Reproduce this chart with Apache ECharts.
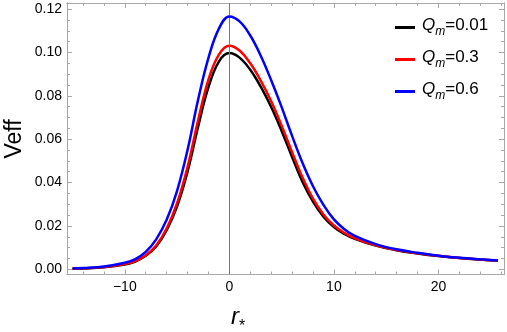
<!DOCTYPE html>
<html>
<head>
<meta charset="utf-8">
<script src="https://cdn.jsdelivr.net/npm/echarts@6/dist/echarts.min.js"></script>
<style>
  html, body { margin: 0; padding: 0; background: #fff; }
  #chart { width: 507px; height: 332px; }
</style>
</head>
<body>
<div id="chart"></div>
<script>
// r* sample positions (shared by all three curves)
var rStar = [-15, -14, -12, -10, -9, -8, -7, -6, -5, -4, -3, -2, -1, 0,
  1, 2, 3, 4, 5, 6, 7, 8, 9, 10, 11, 12, 14, 16, 18, 20, 22, 24, 25.7];

// Veff
var vQ001 = [0.0003, 0.0004, 0.0009, 0.0022, 0.0036, 0.0062, 0.0105, 0.018, 0.029, 0.045, 0.0655, 0.084, 0.0958, 0.0997,
  0.0975, 0.092, 0.0842, 0.0748, 0.0638, 0.0518, 0.0403, 0.0312, 0.0243, 0.0195, 0.0163, 0.014, 0.0109, 0.0088, 0.0073, 0.0061, 0.0052, 0.0045, 0.004];
var vQ03 = [0.0003, 0.0005, 0.001, 0.0024, 0.0038, 0.0065, 0.011, 0.0188, 0.0305, 0.0472, 0.0685, 0.0875, 0.099, 0.1031,
  0.1008, 0.095, 0.087, 0.0775, 0.0662, 0.054, 0.0423, 0.0326, 0.0253, 0.0202, 0.0168, 0.0143, 0.0111, 0.0089, 0.0074, 0.0062, 0.0052, 0.0045, 0.004];
var vQ06 = [0.0004, 0.0006, 0.0013, 0.003, 0.0047, 0.008, 0.0138, 0.0228, 0.0362, 0.055, 0.078, 0.0975, 0.111, 0.1166,
  0.1142, 0.1078, 0.0985, 0.0872, 0.0748, 0.0615, 0.049, 0.0383, 0.0297, 0.023, 0.0185, 0.0154, 0.0116, 0.0092, 0.0076, 0.0063, 0.0053, 0.0046, 0.0041];

var seriesNames = ['Q001', 'Q03', 'Q06'];
var legendValues = ['0.01', '0.3', '0.6'];
var seriesColors = ['#000000', '#ff0000', '#0000ff'];

var xMajor = [-10, 0, 10, 20];
var xMinor = [-14, -12, -8, -6, -4, -2, 2, 4, 6, 8, 12, 14, 16, 18, 22, 24, 26];
var yMajor = [0, 0.02, 0.04, 0.06, 0.08, 0.1, 0.12];
var yMinor = [0.005, 0.01, 0.015, 0.025, 0.03, 0.035, 0.045, 0.05, 0.055,
  0.065, 0.07, 0.075, 0.085, 0.09, 0.095, 0.105, 0.11, 0.115];

var frameColor = '#a8a8a8';
var xRange = [-15.53, 26.27];
var yRange = [-0.0024, 0.1228];

function pairs(xs, ys) {
  return xs.map(function (x, i) { return [x, ys[i]]; });
}

// one axis = one side of the frame, either major or minor ticks
function xSide(pos, ticks, len, labels) {
  return {
    type: 'value', position: pos, min: xRange[0], max: xRange[1],
    axisLine: { show: true, onZero: false, lineStyle: { color: frameColor, width: 1 } },
    axisTick: { show: true, inside: true, length: len, customValues: ticks,
      lineStyle: { color: frameColor, width: 1 } },
    axisLabel: labels ? {
      show: true, customValues: ticks, margin: 6, color: '#000',
      fontFamily: 'Liberation Sans', fontSize: 14,
      formatter: function (v) { return v < 0 ? '\u2212' + Math.abs(v) : String(v); }
    } : { show: false },
    splitLine: { show: false }
  };
}
function ySide(pos, ticks, len, labels) {
  return {
    type: 'value', position: pos, min: yRange[0], max: yRange[1],
    axisLine: { show: true, onZero: false, lineStyle: { color: frameColor, width: 1 } },
    axisTick: { show: true, inside: true, length: len, customValues: ticks,
      lineStyle: { color: frameColor, width: 1 } },
    axisLabel: labels ? {
      show: true, customValues: ticks, margin: 5, color: '#000',
      fontFamily: 'Liberation Sans', fontSize: 14,
      formatter: function (v) { return v.toFixed(2); }
    } : { show: false },
    splitLine: { show: false }
  };
}

var series = [{
  type: 'line', data: [], xAxisIndex: 0, yAxisIndex: 0, z: 1, silent: true,
  markLine: {
    silent: true, symbol: 'none', label: { show: false },
    lineStyle: { color: '#7a7a7a', width: 1, type: 'solid' },
    data: [{ xAxis: 0 }]
  }
}];
seriesNames.forEach(function (name, i) {
  var vals = [vQ001, vQ03, vQ06][i];
  series.push({
    name: name, type: 'line', xAxisIndex: 0, yAxisIndex: 0,
    data: pairs(rStar, vals), showSymbol: false, smooth: 0.4, z: 3 + i,
    lineStyle: { color: seriesColors[i], width: 2.5 },
    itemStyle: { color: seriesColors[i] }
  });
});

var chart = echarts.init(document.getElementById('chart'), null, { renderer: 'canvas' });
chart.setOption({
  animation: false,
  backgroundColor: '#fff',
  grid: { left: 67, right: 3, top: 3, bottom: 57.5, containLabel: false },
  xAxis: [
    xSide('bottom', xMajor, 5, true),
    xSide('bottom', xMinor, 3, false),
    xSide('top', xMajor, 5, false),
    xSide('top', xMinor, 3, false)
  ],
  yAxis: [
    ySide('left', yMajor, 5, true),
    ySide('left', yMinor, 3, false),
    ySide('right', yMajor, 5, false),
    ySide('right', yMinor, 3, false)
  ],
  legend: {
    orient: 'vertical', left: 390, top: 12, itemGap: 11,
    itemWidth: 20, itemHeight: 3, icon: 'rect',
    data: seriesNames,
    formatter: function (name) {
      return '{q|Q}{m|m}{t|=' + legendValues[seriesNames.indexOf(name)] + '}';
    },
    textStyle: {
      padding: [0, 0, 0, 2],
      rich: {
        q: { fontFamily: 'Liberation Sans', fontSize: 17, fontStyle: 'italic', color: '#000',
          verticalAlign: 'bottom', padding: [0, 0, 4, 0] },
        m: { fontFamily: 'Liberation Sans', fontSize: 12, fontStyle: 'italic', color: '#000',
          verticalAlign: 'bottom' },
        t: { fontFamily: 'Liberation Sans', fontSize: 17, color: '#000',
          verticalAlign: 'bottom', padding: [0, 0, 4, 0] }
      }
    }
  },
  graphic: [
    {
      type: 'text', x: 15, y: 139, rotation: Math.PI / 2,
      style: { text: 'Veff', fontFamily: 'Liberation Sans', fontSize: 23, fill: '#000',
        align: 'center', verticalAlign: 'middle' }
    },
    {
      type: 'text', x: 238, y: 320,
      style: {
        text: '{r|r}{s|*}', align: 'center', verticalAlign: 'middle',
        rich: {
          r: { fontFamily: 'Liberation Sans', fontSize: 24, fontStyle: 'italic', fill: '#000',
            verticalAlign: 'bottom', padding: [0, 0, 5, 0] },
          s: { fontFamily: 'Liberation Sans', fontSize: 16, fill: '#000', verticalAlign: 'bottom' }
        }
      }
    }
  ],
  series: series
});
</script>
</body>
</html>
